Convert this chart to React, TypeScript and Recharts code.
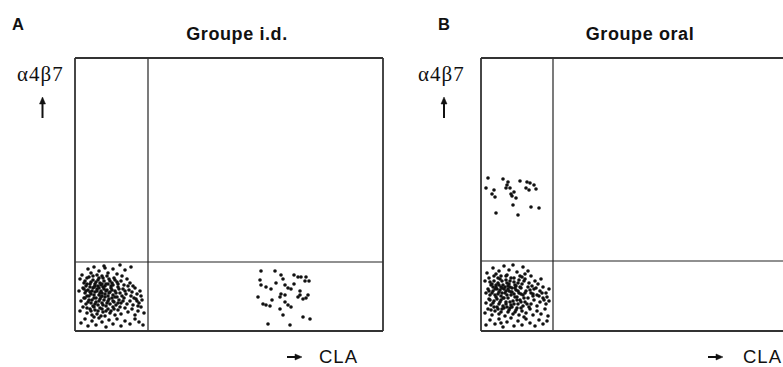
import React from 'react';
import { ScatterChart, Scatter, XAxis, YAxis, ReferenceLine } from 'recharts';

// Flow cytometry dot plots: CLA (x) vs a4b7 (y), arbitrary channel units
const X_MAX = 308;
const Y_MAX = 273;

// quadrant gates
const gateA = { x: 73, y: 69 };
const gateB = { x: 72, y: 70 };

// Groupe i.d. - CLA- a4b7- (dense cluster, lower left)
const idNegNeg: [number, number][] = [
  [13, 62], [19, 64], [24, 60], [29, 65], [33, 58], [38, 62], [45, 66], [50, 61], [56, 64], [22, 56], [27, 55], [42, 57], [47, 55], [16, 58], [7, 56], [30, 63],
  [5, 52], [9, 48], [12, 53], [15, 47], [18, 51], [21, 49], [24, 53], [26, 46], [29, 50], [31, 47], [34, 52], [37, 48], [40, 51], [43, 47], [46, 50], [49, 46], [52, 52], [55, 48], [58, 45], [20, 45], [11, 45], [36, 45],
  [4, 40], [8, 43], [10, 38], [13, 41], [16, 37], [18, 43], [20, 39], [22, 42], [24, 36], [26, 40], [28, 44], [30, 37], [32, 41], [34, 38], [36, 43], [38, 36], [40, 40], [43, 44], [45, 38], [48, 42], [51, 37], [54, 41], [57, 39], [60, 43], [62, 37], [65, 40], [14, 35], [27, 35], [47, 35],
  [15, 44], [17, 40], [23, 45], [25, 38], [19, 36], [21, 33], [29, 42], [33, 35], [12, 35], [27, 47],
  [6, 30], [9, 33], [11, 27], [14, 31], [16, 28], [19, 33], [21, 29], [23, 26], [25, 32], [27, 28], [29, 31], [31, 25], [33, 30], [35, 27], [37, 33], [39, 29], [41, 26], [44, 31], [46, 28], [49, 33], [52, 27], [55, 30], [58, 26], [61, 32], [64, 28], [67, 31], [18, 25], [42, 34], [30, 34],
  [5, 20], [8, 24], [12, 18], [15, 22], [17, 16], [20, 21], [22, 17], [25, 23], [28, 19], [30, 15], [33, 22], [35, 18], [38, 24], [40, 16], [43, 21], [46, 17], [50, 23], [53, 19], [57, 22], [60, 16], [63, 20], [66, 24], [69, 18], [26, 15],
  [6, 8], [10, 12], [13, 5], [17, 10], [21, 6], [24, 13], [27, 9], [31, 4], [34, 11], [38, 7], [42, 12], [46, 5], [50, 10], [55, 7], [60, 12], [64, 9], [68, 6], [19, 14],
  [10, 50], [14, 54], [18, 55], [23, 51], [28, 53], [32, 55], [35, 50], [39, 53], [12, 47], [16, 49], [20, 47], [25, 48], [30, 45], [33, 47], [38, 46], [42, 49],
  [9, 42], [11, 40], [15, 39], [19, 44], [22, 40], [24, 43], [27, 38], [31, 40], [35, 39], [37, 41], [41, 38], [44, 42],
  [10, 33], [13, 29], [17, 31], [20, 27], [24, 30], [26, 34], [28, 26], [32, 28], [34, 32], [38, 30], [40, 34], [43, 28],
  [12, 23], [16, 20], [19, 24], [23, 20], [27, 22], [31, 20], [36, 20], [39, 22], [45, 24], [48, 30], [50, 40], [53, 45], [56, 35], [59, 33], [62, 30], [63, 25], [66, 35],
];

// Groupe i.d. - CLA+ a4b7-
const idPosNeg: [number, number][] = [
  [186, 60], [200, 60], [206, 56], [208, 52], [219, 56], [223, 54], [226, 54], [231, 54], [230, 50], [234, 50],
  [185, 51], [186, 46], [191, 44], [196, 42], [210, 46], [213, 43], [216, 42], [225, 40], [206, 37], [205, 34],
  [210, 36], [223, 34], [228, 32], [231, 33], [233, 36], [183, 34], [188, 27], [191, 26], [195, 25], [210, 29],
  [213, 26], [216, 24], [205, 22], [208, 16], [228, 14], [235, 12], [193, 7], [215, 6], [225, 36], [201, 48],
  [219, 47], [197, 31],
];

// Groupe oral - CLA- a4b7+
const oralNegPos: [number, number][] = [
  [7, 153], [22, 152], [27, 149], [26, 146], [25, 143], [29, 143], [33, 139], [31, 135], [35, 133], [39, 150],
  [46, 149], [49, 148], [45, 143], [48, 141], [53, 146], [55, 142], [5, 143], [13, 141], [11, 137], [14, 134],
  [32, 126], [50, 124], [58, 123], [15, 118], [37, 116], [30, 137],
];

// Groupe oral - CLA- a4b7-
const oralNegNeg: [number, number][] = [
  [12, 63], [18, 60], [23, 65], [28, 61], [32, 66], [36, 59], [42, 64], [47, 60], [26, 56], [20, 55], [39, 55], [44, 57], [50, 55], [15, 57], [6, 58],
  [4, 50], [8, 53], [10, 46], [13, 50], [17, 48], [19, 52], [22, 46], [25, 51], [28, 47], [30, 53], [33, 49], [35, 45], [38, 51], [41, 47], [44, 52], [48, 48], [51, 45], [54, 50], [57, 47], [60, 52], [24, 44], [12, 44],
  [5, 38], [7, 42], [9, 36], [12, 40], [15, 44], [17, 37], [19, 41], [21, 38], [23, 42], [26, 36], [28, 40], [31, 43], [33, 37], [35, 41], [38, 38], [40, 43], [42, 36], [45, 40], [47, 44], [50, 38], [53, 42], [56, 36], [59, 40], [62, 44], [65, 38], [68, 42], [14, 36], [30, 36], [52, 35],
  [16, 42], [20, 35], [25, 40], [27, 45], [22, 33], [31, 39], [18, 46], [36, 34],
  [5, 28], [8, 32], [10, 26], [13, 30], [15, 34], [18, 27], [20, 31], [22, 25], [25, 29], [27, 33], [30, 26], [32, 30], [34, 34], [37, 27], [39, 31], [42, 25], [44, 29], [47, 33], [50, 27], [53, 31], [56, 25], [59, 29], [62, 33], [65, 27], [68, 30], [16, 24], [36, 23], [48, 24],
  [4, 18], [7, 22], [11, 16], [14, 20], [18, 17], [21, 22], [24, 15], [27, 19], [29, 23], [32, 17], [35, 21], [38, 16], [41, 20], [45, 18], [49, 22], [52, 16], [56, 20], [60, 17], [64, 22], [67, 15], [26, 24],
  [5, 6], [9, 11], [14, 7], [18, 12], [22, 4], [26, 9], [30, 13], [33, 5], [37, 10], [41, 6], [45, 12], [49, 8], [54, 5], [58, 11], [62, 7], [66, 10], [20, 8], [43, 14],
  [9, 49], [13, 55], [17, 53], [21, 50], [25, 55], [29, 50], [33, 53], [37, 48], [41, 54], [11, 47], [15, 46], [20, 44], [26, 48], [29, 44], [34, 46], [39, 44], [43, 50],
  [8, 40], [11, 38], [14, 42], [18, 39], [21, 43], [24, 38], [27, 42], [30, 39], [34, 43], [37, 40], [40, 37], [44, 38],
  [9, 31], [12, 28], [16, 32], [19, 29], [23, 33], [25, 27], [29, 29], [33, 27], [36, 31], [40, 29], [43, 33],
  [10, 21], [13, 24], [17, 22], [20, 19], [23, 23], [28, 21], [31, 24], [34, 19], [40, 23], [46, 27], [52, 37], [55, 43], [58, 35], [61, 38], [63, 31], [66, 34], [49, 41],
];

const toPoints = (arr: [number, number][]) => arr.map(([x, y]) => ({ x, y }));

const Dot = (props: any) => <circle cx={props.cx} cy={props.cy} r={1.8} fill="#111" />;

const SANS = '"Liberation Sans", Arial, sans-serif';
const SERIF = '"Liberation Serif", "Times New Roman", serif';

interface PanelProps {
  left: number;
  marginLeft: number;
  gate: { x: number; y: number };
  series: [number, number][][];
}

function Panel({ left, marginLeft, gate, series }: PanelProps) {
  return (
    <div style={{ position: 'absolute', left, top: 0 }}>
      <ScatterChart
        width={400}
        height={367}
        margin={{ top: 58, right: 400 - marginLeft - X_MAX, bottom: 36, left: marginLeft }}
      >
        <XAxis type="number" dataKey="x" domain={[0, X_MAX]} hide />
        <YAxis type="number" dataKey="y" domain={[0, Y_MAX]} hide />
        {series.map((s, i) => (
          <Scatter key={i} data={toPoints(s)} shape={Dot} isAnimationActive={false} />
        ))}
        {/* quadrant gates */}
        <ReferenceLine x={gate.x} stroke="#222" strokeWidth={1.2} />
        <ReferenceLine y={gate.y} stroke="#222" strokeWidth={1.2} />
        {/* frame */}
        <ReferenceLine x={0} stroke="#333" strokeWidth={1.8} />
        <ReferenceLine x={X_MAX} stroke="#333" strokeWidth={1.8} />
        <ReferenceLine y={0} stroke="#333" strokeWidth={1.8} />
        <ReferenceLine y={Y_MAX} stroke="#333" strokeWidth={1.8} />
      </ScatterChart>
    </div>
  );
}

function UpArrow({ x }: { x: number }) {
  return (
    <g fill="#111" stroke="#111">
      <line x1={x} y1={103} x2={x} y2={118} strokeWidth={2} />
      <path d={`M${x - 3},${104} L${x},${97} L${x + 3},${104} Z`} strokeWidth={0.5} />
    </g>
  );
}

function RightArrow({ x }: { x: number }) {
  return (
    <g fill="#111" stroke="#111">
      <line x1={x} y1={357} x2={x + 9} y2={357} strokeWidth={2} />
      <path d={`M${x + 8},${354} L${x + 15},${357} L${x + 8},${360} Z`} strokeWidth={0.5} />
    </g>
  );
}

export default function App() {
  return (
    <div style={{ position: 'fixed', left: 0, top: 0, width: 783, height: 367, overflow: 'hidden', background: '#fff' }}>
      <Panel left={0} marginLeft={75} gate={gateA} series={[idNegNeg, idPosNeg]} />
      <Panel left={400} marginLeft={81} gate={gateB} series={[oralNegPos, oralNegNeg]} />
      <svg width={783} height={367} style={{ position: 'absolute', left: 0, top: 0, pointerEvents: 'none' }}>
        <text x={12} y={30} fontFamily={SANS} fontWeight="bold" fontSize={16.5} fill="#111">A</text>
        <text x={438} y={30} fontFamily={SANS} fontWeight="bold" fontSize={16.5} fill="#111">B</text>
        <text x={237} y={40} textAnchor="middle" fontFamily={SANS} fontWeight="bold" fontSize={18} letterSpacing={0.6} fill="#111">Groupe i.d.</text>
        <text x={640} y={40} textAnchor="middle" fontFamily={SANS} fontWeight="bold" fontSize={18} letterSpacing={0.6} fill="#111">Groupe oral</text>
        <text x={17} y={81} fontFamily={SERIF} fontSize={21} letterSpacing={1} fill="#111">α4β7</text>
        <text x={418} y={81} fontFamily={SERIF} fontSize={21} letterSpacing={1} fill="#111">α4β7</text>
        <UpArrow x={42.5} />
        <UpArrow x={444} />
        <RightArrow x={287} />
        <RightArrow x={708} />
        <text x={319} y={363} fontFamily={SANS} fontSize={18.5} letterSpacing={1} fill="#111">CLA</text>
        <text x={743} y={363} fontFamily={SANS} fontSize={18.5} letterSpacing={1} fill="#111">CLA</text>
      </svg>
    </div>
  );
}
